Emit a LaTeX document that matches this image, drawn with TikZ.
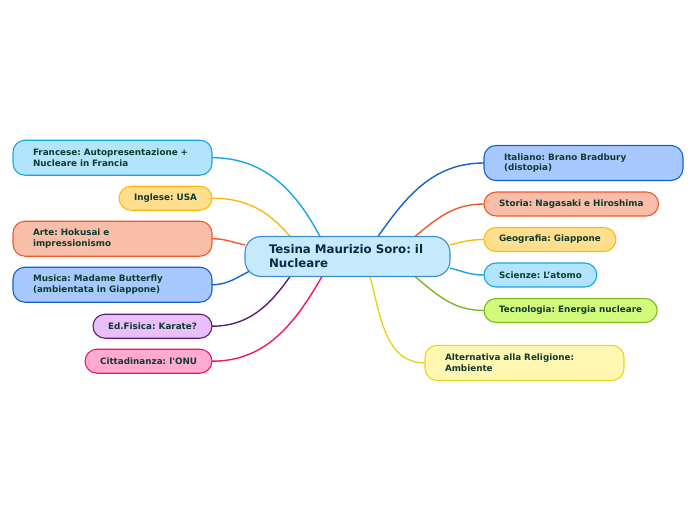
\documentclass[tikz,border=0pt]{standalone}
\usepackage{fontspec}
\setmainfont{DejaVu Sans}[BoldFont={DejaVu Sans Bold}]
\usetikzlibrary{positioning}
\pgfdeclarelayer{background}
\pgfsetlayers{background,main}
\frenchspacing

\definecolor{leaftext}{HTML}{0E3B2E}
\definecolor{hubtext}{HTML}{0C2848}
\definecolor{hubfill}{HTML}{C6EAFB}
\definecolor{hubline}{HTML}{3C8CC8}
\definecolor{skyfill}{HTML}{B2E5FB}
\definecolor{skyline}{HTML}{16A6E6}
\definecolor{amberfill}{HTML}{FFDE8E}
\definecolor{amberline}{HTML}{FFB80A}
\definecolor{coralfill}{HTML}{F8BEAA}
\definecolor{coralline}{HTML}{F05A28}
\definecolor{azurefill}{HTML}{A8C9FF}
\definecolor{azureline}{HTML}{1560D0}
\definecolor{plumfill}{HTML}{EABDFB}
\definecolor{plumline}{HTML}{5B1F72}
\definecolor{rosefill}{HTML}{FFAAD1}
\definecolor{roseline}{HTML}{F0146E}
\definecolor{limefill}{HTML}{D4FA7C}
\definecolor{limeline}{HTML}{7DB81E}
\definecolor{lemonfill}{HTML}{FFF7B2}
\definecolor{lemonline}{HTML}{E8D41E}

\begin{document}
\begin{tikzpicture}[x=1pt, y=1pt,
    every node/.style={font=\fontsize{8.8}{10.5}\selectfont\bfseries, text=leaftext},
    leaf/.style={draw, rounded corners=12pt, line width=1.1pt, outer sep=0pt, minimum height=24pt, inner xsep=15pt, align=left},
    twoline/.style={text width=159pt, inner xsep=20pt, minimum height=35pt},
    tone/.style={draw=#1line, fill=#1fill},
    hub/.style={draw=hubline, fill=hubfill, rounded corners=16pt, line width=1.1pt, outer sep=0pt, text width=157pt, inner xsep=24pt, minimum height=40pt, align=left, font=\fontsize{11.8}{14}\selectfont\bfseries, text=hubtext},
    link/.style={line width=1.4pt}]

    \useasboundingbox (0,0) rectangle (696,-520);

    % Centre
    \node[hub] (hub) at (347.5,-256.5) {Tesina Maurizio Soro: il\\Nucleare};

    % Left branches
    \node[leaf, twoline, tone=sky, anchor=north east] (fra) at (212,-140.2) {Francese: Autopresentazione +\\Nucleare in Francia};
    \node[leaf, tone=amber, below=11pt of fra.south east, anchor=north east] (ing) {Inglese: USA};
    \node[leaf, twoline, tone=coral, below=11pt of ing.south east, anchor=north east] (art) {Arte: Hokusai e\\impressionismo};
    \node[leaf, twoline, tone=azure, below=11pt of art.south east, anchor=north east] (mus) {Musica: Madame Butterfly\\(ambientata in Giappone)};
    \node[leaf, tone=plum, below=12pt of mus.south east, anchor=north east] (edf) {Ed.Fisica: Karate?};
    \node[leaf, tone=rose, below=11pt of edf.south east, anchor=north east] (cit) {Cittadinanza: l\textquotesingle ONU};

    % Right branches
    \node[leaf, twoline, tone=azure, anchor=north west] (ita) at (484,-145.5) {Italiano: Brano Bradbury\\(distopia)};
    \node[leaf, tone=coral, below=11.5pt of ita.south west, anchor=north west] (sto) {Storia: Nagasaki e Hiroshima};
    \node[leaf, tone=amber, below=11.5pt of sto.south west, anchor=north west] (geo) {Geografia: Giappone};
    \node[leaf, tone=sky, below=11.5pt of geo.south west, anchor=north west] (sci) {Scienze: L’atomo};
    \node[leaf, tone=lime, below=11.5pt of sci.south west, anchor=north west] (tec) {Tecnologia: Energia nucleare};
    \node[leaf, twoline, tone=lemon, anchor=north west] (alt) at (425,-345.4) {Alternativa alla Religione:\\Ambiente};

    % Links
    \begin{pgfonlayer}{background}
    \draw[link, skyline] ([xshift=-27.5pt]hub.north) to[out=118, in=0] (fra.east);
    \draw[link, amberline] ([xshift=-57.5pt]hub.north) to[out=130, in=0] (ing.east);
    \draw[link, coralline] ([yshift=11.5pt]hub.west) to[out=168, in=0] (art.east);
    \draw[link, azureline] ([xshift=7pt, yshift=-13.5pt]hub.west) to[out=205, in=0] (mus.east);
    \draw[link, plumline] ([xshift=-57.5pt]hub.south) to[out=235, in=0] (edf.east);
    \draw[link, roseline] ([xshift=-25.5pt]hub.south) to[out=240, in=0] (cit.east);
    \draw[link, azureline] ([xshift=30.5pt]hub.north) to[out=55, in=180] (ita.west);
    \draw[link, coralline] ([xshift=67.5pt]hub.north) to[out=40, in=180] (sto.west);
    \draw[link, amberline] ([yshift=11.5pt]hub.east) to[out=15, in=180] (geo.west);
    \draw[link, skyline] ([yshift=-11.5pt]hub.east) to[out=-15, in=180] (sci.west);
    \draw[link, limeline] ([xshift=67.5pt]hub.south) to[out=-40, in=180] (tec.west);
    \draw[link, lemonline] ([xshift=22.5pt]hub.south) to[out=-75, in=180] (alt.west);
    \end{pgfonlayer}

\end{tikzpicture}
\end{document}
